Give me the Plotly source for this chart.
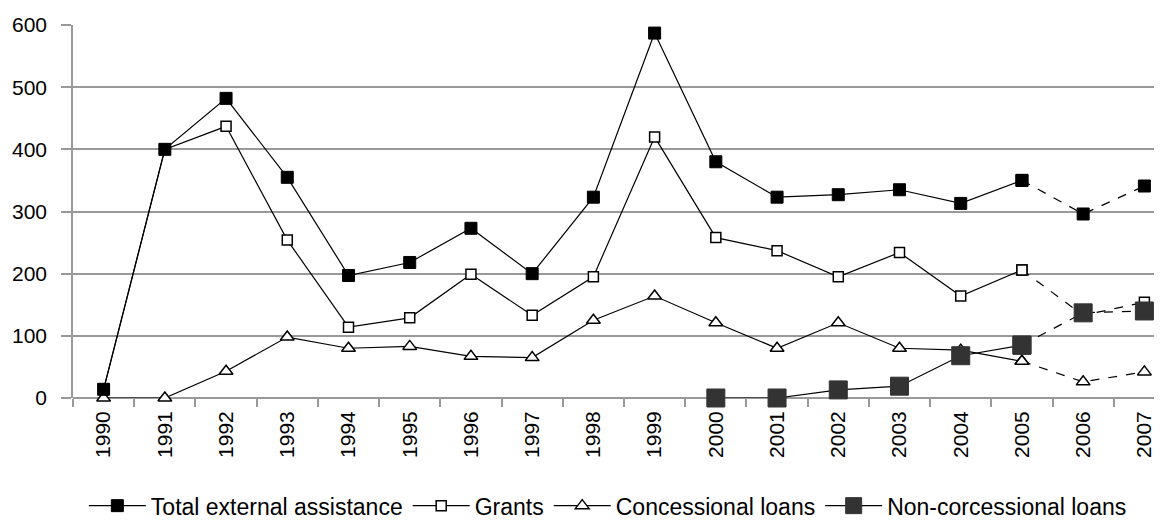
import plotly.graph_objects as go

years = [str(y) for y in range(1990, 2008)]
total = [14, 400, 482, 355, 197, 218, 273, 200, 323, 587, 380, 323, 327, 335, 313, 350, 296, 341]
grants = [14, 400, 437, 254, 114, 129, 199, 133, 195, 420, 258, 237, 195, 234, 164, 206, 133, 154]
concessional = [0, 0, 43, 98, 80, 83, 67, 65, 125, 164, 121, 80, 121, 80, 77, 59, 26, 42]
noncon = [None] * 10 + [0, 0, 13, 19, 68, 85, 137, 140]

names = ["Total external assistance", "Grants", "Concessional loans", "Non-corcessional loans"]
series = [total, grants, concessional, noncon]
markers = [
    dict(symbol="square", size=12, color="black", line=dict(color="black", width=1)),
    dict(symbol="square", size=10, color="white", line=dict(color="black", width=1.5)),
    dict(symbol="triangle-up", size=12, color="white", line=dict(color="black", width=1.5)),
    dict(symbol="square", size=18, color="#333333", line=dict(color="#333333", width=1)),
]
draw_order = [1, 2, 0, 3]  # grants, concessional, total, non-concessional on top

split = 15  # index of 2005: solid up to here, dashed afterwards

fig = go.Figure()
for i in draw_order:
    name, vals, mk = names[i], series[i], markers[i]
    fig.add_trace(go.Scatter(
        x=years[split:], y=vals[split:], mode="lines+markers",
        line=dict(color="black", width=1.2, dash="dash"),
        marker=mk, showlegend=False, cliponaxis=False, hoverinfo="skip"))
    fig.add_trace(go.Scatter(
        x=years[:split + 1], y=vals[:split + 1], mode="lines+markers", name=name,
        line=dict(color="black", width=1.2), marker=mk, cliponaxis=False,
        legendrank=i + 1))

fig.update_layout(
    width=1167, height=525,
    margin=dict(l=65, r=0, t=17, b=135),
    paper_bgcolor="white", plot_bgcolor="white",
    font=dict(family="Liberation Sans, Arial, sans-serif", color="black", size=21),
    showlegend=True,
    legend=dict(orientation="h", xref="container", yref="container",
                x=0.514, xanchor="center", y=0.052, yanchor="middle",
                font=dict(size=23), itemwidth=57, tracegroupgap=0,
                traceorder="normal"),
)
fig.update_xaxes(
    type="category", categoryorder="array", categoryarray=years,
    range=[-0.5, 17.5], showgrid=False, tickson="boundaries",
    ticks="outside", ticklen=8, tickcolor="#999999", tickwidth=1.5,
    tickangle=-90, tickfont=dict(size=21), showline=False, zeroline=False,
    ticklabelstandoff=8,
)
fig.update_yaxes(
    range=[0, 600], tickvals=[0, 100, 200, 300, 400, 500, 600],
    showgrid=True, gridcolor="#999999", gridwidth=1.5,
    ticks="outside", ticklen=10, tickcolor="#999999", tickwidth=1.5,
    showline=True, linecolor="#999999", linewidth=1.5,
    zeroline=True, zerolinecolor="#999999", zerolinewidth=1.5,
    tickfont=dict(size=21), ticklabelstandoff=10,
)

fig.write_html("out.html")
